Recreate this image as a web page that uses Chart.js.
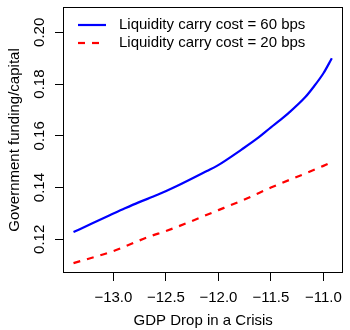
<!DOCTYPE html>
<html>
<head>
<meta charset="utf-8">
<script src="https://cdn.jsdelivr.net/npm/chart.js@4"></script>
<style>
  html, body { margin: 0; padding: 0; background: #fff; }
  #wrap { width: 350px; height: 330px; }
</style>
</head>
<body>
<div id="wrap"><canvas id="myChart" width="350" height="330"></canvas></div>
<script>
// GDP drop (x) against government funding / capital (y)
var xBlue = [-13.38, -13.20, -13.04, -12.89, -12.76, -12.58, -12.39, -12.11, -12.01, -11.78, -11.64, -11.50, -11.41, -11.33, -11.17, -11.10, -11.00, -10.92];
var yBlue = [0.1228, 0.1262, 0.1292, 0.1320, 0.1343, 0.1372, 0.1407, 0.1464, 0.1485, 0.1547, 0.1587, 0.1633, 0.1662, 0.1689, 0.1751, 0.1786, 0.1842, 0.1900];
var xRed = [-13.38, -13.00, -12.65, -12.50, -12.00, -11.73, -11.50, -11.00, -10.92];
var yRed = [0.1108, 0.1155, 0.1212, 0.1232, 0.1313, 0.1358, 0.1400, 0.1484, 0.1499];
var seriesNames = ['Liquidity carry cost = 60 bps', 'Liquidity carry cost = 20 bps'];
var xTicks = [-13.0, -12.5, -12.0, -11.5, -11.0];
var yTicks = [0.12, 0.14, 0.16, 0.18, 0.20];

var FONT = 'Liberation Sans, Arial, Helvetica, sans-serif';

function pts(xs, ys) {
  var out = [];
  for (let i = 0; i < xs.length; i++) out.push({x: xs[i], y: ys[i]});
  return out;
}
function minus(s) { return s.replace('-', '\u2212'); }

// box round the plot, rotated y labels and the legend
var extras = {
  id: 'extras',
  afterDraw: function(chart) {
    var ctx = chart.ctx;
    var a = chart.chartArea;
    ctx.save();
    ctx.strokeStyle = '#000';
    ctx.lineWidth = 1;
    ctx.strokeRect(Math.round(a.left) + 0.5, Math.round(a.top) + 0.5,
                   Math.round(a.right - a.left) - 1, Math.round(a.bottom - a.top) - 1);

    ctx.fillStyle = '#000';
    ctx.font = '15px ' + FONT;
    ctx.textAlign = 'center';
    ctx.textBaseline = 'middle';
    var ys = chart.scales.y;
    yTicks.forEach(function(v) {
      ctx.save();
      ctx.translate(40, ys.getPixelForValue(v));
      ctx.rotate(-Math.PI / 2);
      ctx.fillText(v.toFixed(2), 0, 0);
      ctx.restore();
    });

    var rows = [25, 43];
    chart.data.datasets.forEach(function(ds, i) {
      ctx.beginPath();
      ctx.strokeStyle = ds.borderColor;
      ctx.lineWidth = ds.borderWidth;
      ctx.setLineDash(ds.borderDash || []);
      ctx.moveTo(78, rows[i]);
      ctx.lineTo(106, rows[i]);
      ctx.stroke();
      ctx.setLineDash([]);
      ctx.textAlign = 'left';
      ctx.fillStyle = '#000';
      ctx.fillText(ds.label, 119, rows[i]);
    });
    ctx.restore();
  }
};

let ctx = document.getElementById('myChart');
let myChart = new Chart(ctx, {
  type: 'line',
  data: {
    datasets: [{
      label: seriesNames[0],
      data: pts(xBlue, yBlue),
      borderColor: '#0000ff',
      borderWidth: 2.2,
      pointRadius: 0,
      cubicInterpolationMode: 'monotone'
    }, {
      label: seriesNames[1],
      data: pts(xRed, yRed),
      borderColor: '#ff0000',
      borderWidth: 2.2,
      borderDash: [7, 7],
      pointRadius: 0,
      cubicInterpolationMode: 'monotone'
    }]
  },
  options: {
    responsive: false,
    animation: false,
    layout: { padding: { left: 0, right: 2, top: 7, bottom: 0 } },
    plugins: { legend: { display: false }, tooltip: { enabled: false } },
    scales: {
      x: {
        type: 'linear',
        min: -13.48,
        max: -10.81,
        afterBuildTicks: function(s) { s.ticks = xTicks.map(function(v) { return {value: v}; }); },
        afterFit: function(s) { s.height = 57; },
        grid: { drawOnChartArea: false, drawTicks: true, tickLength: 8, color: '#000' },
        border: { display: false },
        ticks: {
          color: '#000',
          font: { family: FONT, size: 15 },
          padding: 8,
          maxRotation: 0,
          callback: function(v) { return minus(Number(v).toFixed(1)); }
        },
        title: {
          display: true,
          text: 'GDP Drop in a Crisis',
          color: '#000',
          font: { family: FONT, size: 15 },
          padding: { top: 0, bottom: 0 }
        }
      },
      y: {
        type: 'linear',
        min: 0.107,
        max: 0.2098,
        afterBuildTicks: function(s) { s.ticks = yTicks.map(function(v) { return {value: v}; }); },
        afterFit: function(s) { s.width = 63; },
        grid: { drawOnChartArea: false, drawTicks: true, tickLength: 8, color: '#000' },
        border: { display: false },
        ticks: { display: false },
        title: {
          display: true,
          text: 'Government funding/capital',
          color: '#000',
          font: { family: FONT, size: 15 },
          padding: { top: 6, bottom: 0 }
        }
      }
    }
  },
  plugins: [extras]
});
</script>
</body>
</html>
